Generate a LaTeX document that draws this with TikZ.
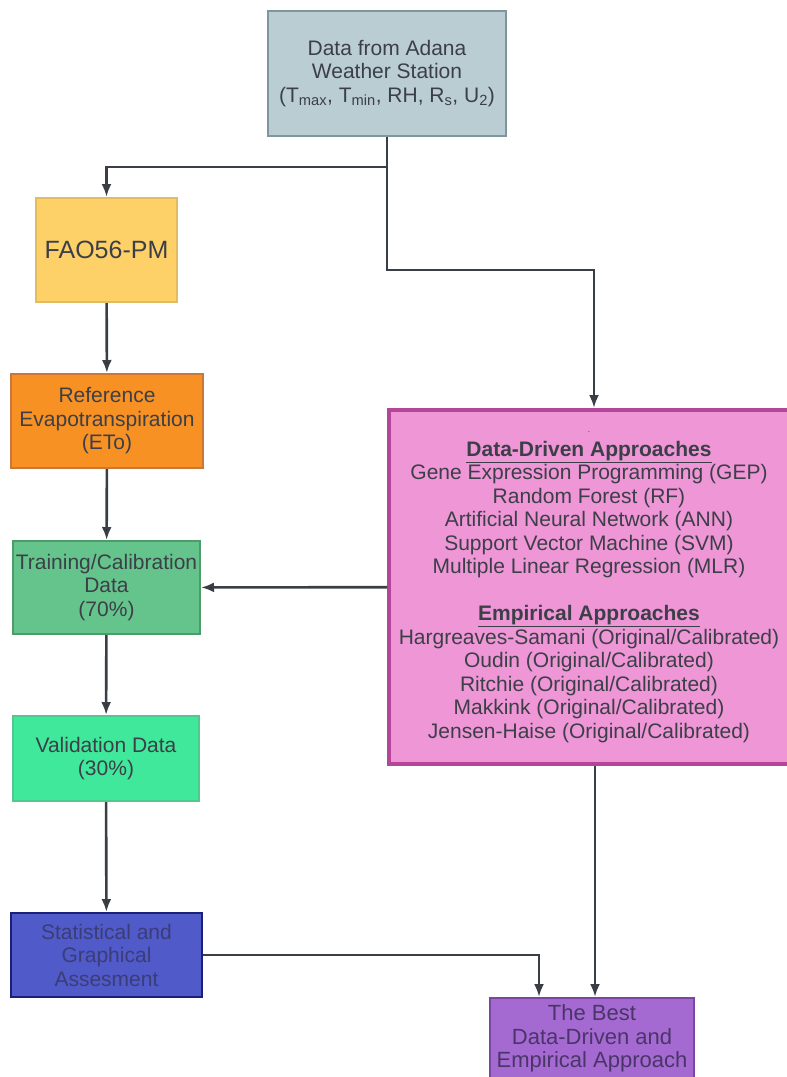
\documentclass[tikz,border=0pt]{standalone}
\usepackage{fontspec}
\setmainfont{Liberation Sans}
\usepackage{tikz}
\usetikzlibrary{positioning,arrows.meta}
\definecolor{txt}{HTML}{3C3F48}
\definecolor{wire}{HTML}{3A3F47}
\definecolor{stationfill}{HTML}{B9CDD2}
\definecolor{stationline}{HTML}{7F969B}
\definecolor{faofill}{HTML}{FDD167}
\definecolor{faoline}{HTML}{E2BC62}
\definecolor{etofill}{HTML}{F79123}
\definecolor{etoline}{HTML}{C8783A}
\definecolor{trainfill}{HTML}{65C48C}
\definecolor{trainline}{HTML}{4F9A6A}
\definecolor{validfill}{HTML}{40E89B}
\definecolor{validline}{HTML}{52C88C}
\definecolor{assessfill}{HTML}{505AC8}
\definecolor{assessline}{HTML}{1A1F7A}
\definecolor{assesstxt}{HTML}{3A3D78}
\definecolor{methodfill}{HTML}{EE96D6}
\definecolor{methodline}{HTML}{B4469A}
\definecolor{bestfill}{HTML}{A569D2}
\definecolor{bestline}{HTML}{7A46A2}
\definecolor{besttxt}{HTML}{4A3568}
\tikzset{
box/.style={draw, line width=2pt, align=center, text=txt, inner sep=0pt,
  font=\fontsize{21}{23.5}\selectfont},
flow/.style={draw=wire, line width=2.6pt, -{Latex[length=13pt,width=10pt]}},
}

\begin{document}
\begin{tikzpicture}[x=1pt,y=-1pt]
   \useasboundingbox (0,0) rectangle (787,1077);
   \node[box, fill=stationfill, draw=stationline, minimum width=238pt, minimum height=125pt] (station) at (387,73.5)
      {Data from Adana\\Weather Station\\(T\textsubscript{max}, T\textsubscript{min}, RH, R\textsubscript{s}, U\textsubscript{2})};
   \node[box, fill=faofill, draw=faoline, minimum width=141pt, minimum height=104pt, font=\fontsize{25}{28}\selectfont] (fao) at (106.5,250) {FAO56-PM};
   \node[box, fill=etofill, draw=etoline, minimum width=192pt, minimum height=94pt] (eto) at (107,421)
      {Reference\\Evapotranspiration\\(ETo)};
   \node[box, fill=trainfill, draw=trainline, minimum width=187pt, minimum height=93pt] (train) at (106.5,587.5)
      {Training/Calibration\\Data\\(70\%)};
   \node[box, fill=validfill, draw=validline, minimum width=186pt, minimum height=85pt] (valid) at (106,758.5)
      {Validation Data\\(30\%)};
   \node[box, fill=assessfill, draw=assessline, minimum width=191pt, minimum height=84pt, text=assesstxt] (assess) at (106.5,955)
      {Statistical and\\Graphical\\Assesment};
   \node[box, fill=methodfill, draw=methodline, line width=4pt, minimum width=400pt, minimum height=354pt] (methods) at (589,587)
      {{\fontsize{8}{10}\selectfont .}\\
       \underline{\textbf{Data-Driven Approaches}}\\
       Gene Expression Programming (GEP)\\
       Random Forest (RF)\\
       Artificial Neural Network (ANN)\\
       Support Vector Machine (SVM)\\
       Multiple Linear Regression (MLR)\\[23.5pt]
       \underline{\textbf{Empirical Approaches}}\\
       Hargreaves-Samani (Original/Calibrated)\\
       Oudin (Original/Calibrated)\\
       Ritchie (Original/Calibrated)\\
       Makkink (Original/Calibrated)\\
       Jensen-Haise (Original/Calibrated)};
   \node[box, fill=bestfill, draw=bestline, minimum width=204pt, inner ysep=7pt, text depth=22pt, anchor=north,
      text=besttxt, font=\fontsize{22}{23.5}\selectfont] (best) at (592,997)
      {The Best\\Data-Driven and\\Empirical Approach};
   \coordinate (split) at (387,167);
   \coordinate (turn) at (387,270);
   \draw[flow, -] (station.south) -- (split);
   \draw[flow] (split) -| (fao.north);
   \draw[flow] (split) -- (turn) -| ([xshift=5pt]methods.north);
   \path[flow]
    (fao) edge (eto)
    (eto) edge (train)
    (train) edge (valid)
    (valid) edge (assess)
    (methods) edge (train);
   \draw[flow] (assess.east) -| ([xshift=-53pt]best.north);
   \draw[flow] ([xshift=6pt]methods.south) -- ([xshift=6pt]methods.south |- best.north);
\end{tikzpicture}
\end{document}
